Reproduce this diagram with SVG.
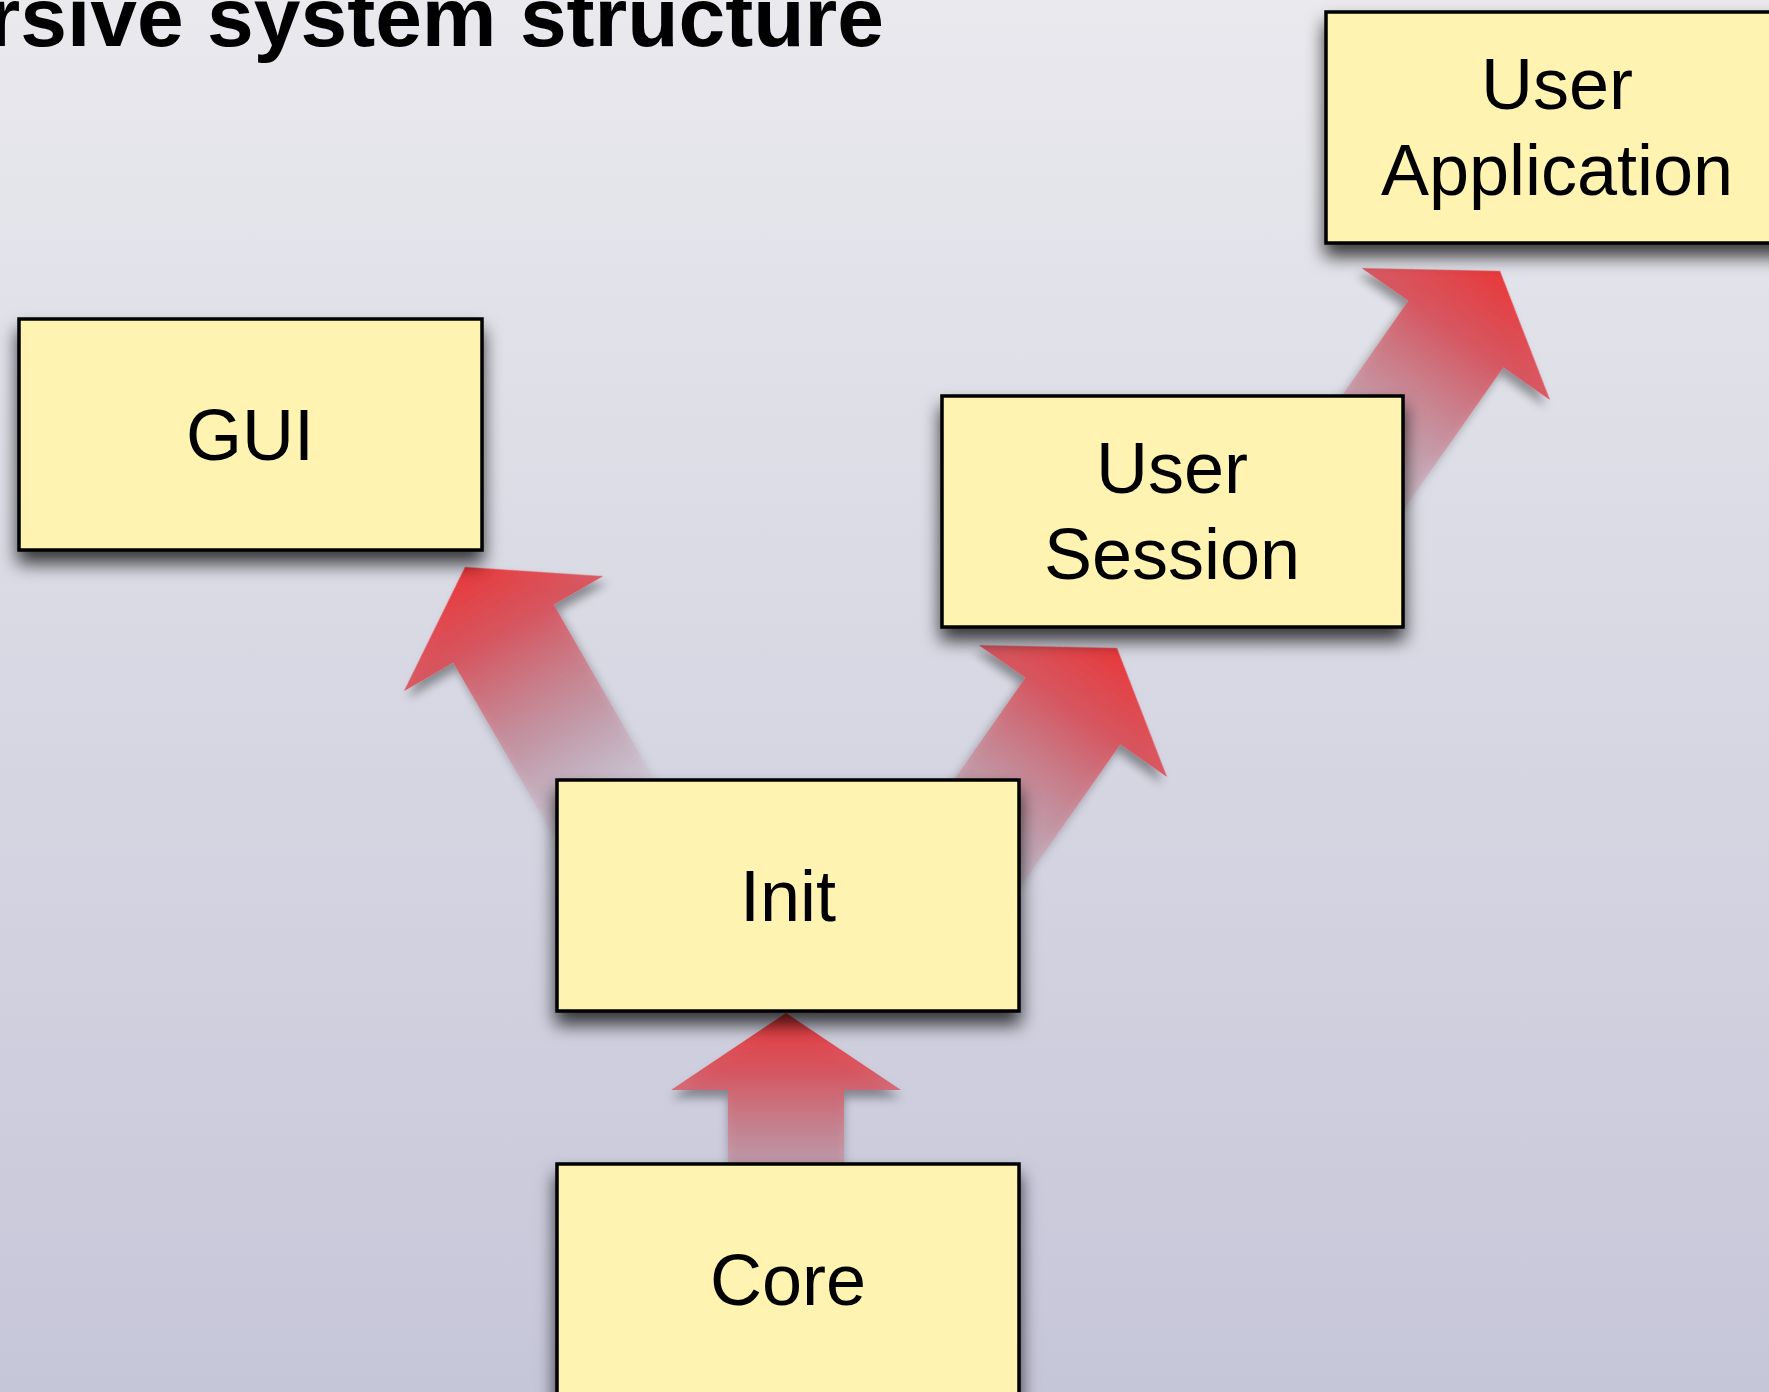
<svg xmlns="http://www.w3.org/2000/svg" width="1769" height="1392" viewBox="0 0 1769 1392">
  <defs>
    <linearGradient id="bg" x1="0" y1="0" x2="0" y2="1">
      <stop offset="0" stop-color="#e9e9ee"/>
      <stop offset="1" stop-color="#c6c6d9"/>
    </linearGradient>
    <linearGradient id="arrowGrad" x1="0" y1="0" x2="0" y2="1">
      <stop offset="0" stop-color="#e8383a" stop-opacity="1"/>
      <stop offset="0.25" stop-color="#d9505a" stop-opacity="0.92"/>
      <stop offset="0.6" stop-color="#c8808f" stop-opacity="0.6"/>
      <stop offset="1" stop-color="#c0a0b8" stop-opacity="0"/>
    </linearGradient>
    <filter id="boxShadow" x="-10%" y="-10%" width="120%" height="140%">
      <feDropShadow dx="0" dy="12" stdDeviation="9" flood-color="#000" flood-opacity="0.75"/>
    </filter>
    <filter id="arrowShadow" x="-20%" y="-20%" width="140%" height="140%">
      <feDropShadow dx="0" dy="8" stdDeviation="5" flood-color="#000" flood-opacity="0.4"/>
    </filter>
  </defs>
  <style>
    .box { fill: #fef3b0; stroke: #000; stroke-width: 3.5; filter: url(#boxShadow); }
    .lbl { font-family: "Liberation Sans", Arial, sans-serif; font-size: 72px; fill: #000; text-anchor: middle; }
    .title { font-family: "Liberation Sans", Arial, sans-serif; font-size: 84px; font-weight: bold; fill: #000; text-anchor: end; }
    .arrow { fill: url(#arrowGrad); filter: url(#arrowShadow); }
  </style>
  <rect x="0" y="0" width="1769" height="1392" fill="url(#bg)"/>
  <text class="title" x="884" y="46">rsive system structure</text>

  <g id="connectors">
    <path class="arrow" transform="translate(786,1013)" d="M0,0 L115,77 L58,77 L58,230 L-58,230 L-58,77 L-115,77 Z"/>
    <path class="arrow" transform="translate(465,567) rotate(-30)" d="M0,0 L115,77 L58,77 L58,300 L-58,300 L-58,77 L-115,77 Z"/>
    <path class="arrow" transform="translate(1117,648) rotate(35)" d="M0,0 L115,77 L58,77 L58,300 L-58,300 L-58,77 L-115,77 Z"/>
    <path class="arrow" transform="translate(1500,271) rotate(35)" d="M0,0 L115,77 L58,77 L58,300 L-58,300 L-58,77 L-115,77 Z"/>
  </g>

  <g id="node-gui">
    <rect class="box" x="19" y="319" width="463" height="231"/>
    <text class="lbl" x="250" y="460">GUI</text>
  </g>
  <g id="node-init">
    <rect class="box" x="557" y="780" width="462" height="231"/>
    <text class="lbl" x="788" y="921">Init</text>
  </g>
  <g id="node-core">
    <rect class="box" x="557" y="1164" width="462" height="260"/>
    <text class="lbl" x="788" y="1305">Core</text>
  </g>
  <g id="node-user-session">
    <rect class="box" x="942" y="396" width="461" height="231"/>
    <text class="lbl" x="1172" y="493">User</text>
    <text class="lbl" x="1172" y="579">Session</text>
  </g>
  <g id="node-user-application">
    <rect class="box" x="1326" y="12" width="463" height="231"/>
    <text class="lbl" x="1557" y="109">User</text>
    <text class="lbl" x="1557" y="195">Application</text>
  </g>
</svg>
